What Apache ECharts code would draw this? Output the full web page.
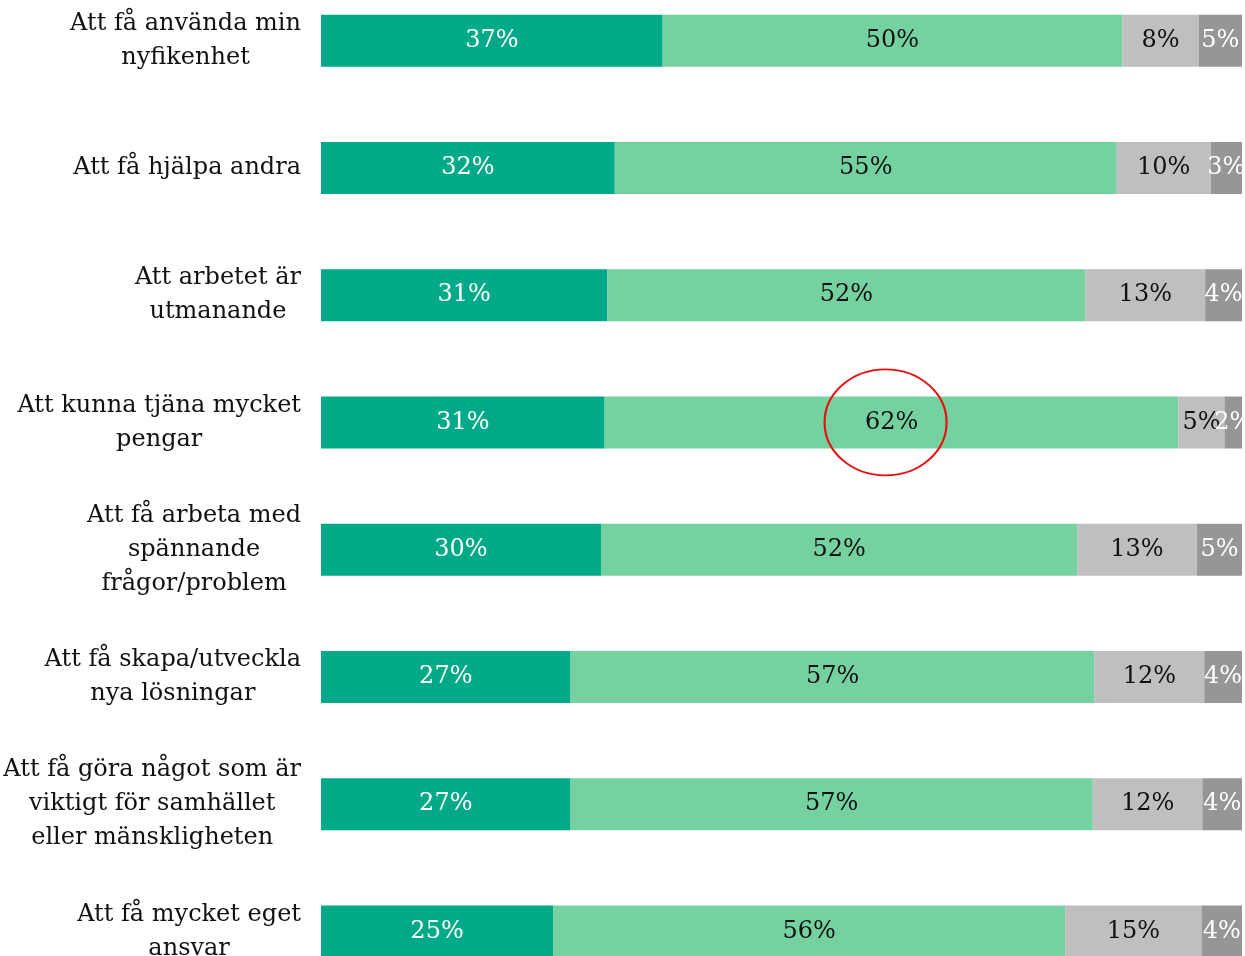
<!DOCTYPE html>
<html><head><meta charset="utf-8">
<script src="https://cdn.jsdelivr.net/npm/echarts@6/dist/echarts.min.js"></script>
<style>html,body{margin:0;padding:0;background:#fff}#c{width:1245px;height:956px}</style>
</head><body><div id="c"></div>
<script>
const categories = [
  'Att få använda min\nnyfikenhet',
  'Att få hjälpa andra',
  'Att arbetet är\nutmanande',
  'Att kunna tjäna mycket\npengar',
  'Att få arbeta med\nspännande\nfrågor/problem',
  'Att få skapa/utveckla\nnya lösningar',
  'Att få göra något som är\nviktigt för samhället\neller mänskligheten',
  'Att få mycket eget\nansvar'
];
const s1 = [37.1, 31.9, 31.1, 30.8, 30.4, 27.1, 27.1, 25.2];
const s2 = [49.9, 54.5, 51.9, 62.3, 51.7, 56.9, 56.7, 55.6];
const s3 = [8.3, 10.2, 13.0, 5.0, 13.0, 11.9, 11.9, 14.8];
const s4 = [4.7, 3.4, 4.0, 1.9, 4.9, 4.1, 4.3, 4.4];
const highlight = { x: 61.3, category: categories[3] };

const FONT = 'DejaVu Serif';
const chart = echarts.init(document.getElementById('c'), null, { renderer: 'canvas' });
function seriesOf(name, data, color, textColor, extra) {
  return Object.assign({
    name, type: 'bar', stack: 'all', data, barWidth: 52,
    itemStyle: { color },
    label: {
      show: true, position: 'inside', color: textColor,
      fontFamily: FONT, fontSize: 24,
      formatter: p => Math.round(p.value) + '%'
    },
    emphasis: { disabled: true }
  }, extra || {});
}
chart.setOption({
  animation: false,
  grid: { left: 321, right: 3, top: -23, height: 1018, containLabel: false, outerBoundsMode: 'none' },
  xAxis: { type: 'value', min: 0, max: 100, show: false },
  yAxis: {
    type: 'category', data: categories, inverse: true,
    axisLine: { show: false }, axisTick: { show: false }, splitLine: { show: false },
    axisLabel: {
      margin: 20, align: 'right', color: '#111', fontFamily: FONT, fontSize: 24,
      lineHeight: 34,
      formatter: v => v.split('\n').map(l => '{c|' + l + '}').join('\n'),
      rich: { c: { align: 'center', fontFamily: FONT, fontSize: 24, lineHeight: 34, color: '#111' } }
    }
  },
  series: [
    seriesOf('s1', s1, '#00AA88', '#ffffff'),
    seriesOf('s2', s2, '#75D2A0', '#111111', {
      markPoint: {
        silent: true,
        symbol: 'circle', symbolSize: [122, 106],
        itemStyle: { color: 'rgba(0,0,0,0)', borderColor: '#E8100E', borderWidth: 2 },
        label: { show: false },
        data: [{ coord: [highlight.x, highlight.category] }]
      }
    }),
    seriesOf('s3', s3, '#BFBFBF', '#111111'),
    seriesOf('s4', s4, '#969696', '#ffffff')
  ]
});
</script></body></html>
